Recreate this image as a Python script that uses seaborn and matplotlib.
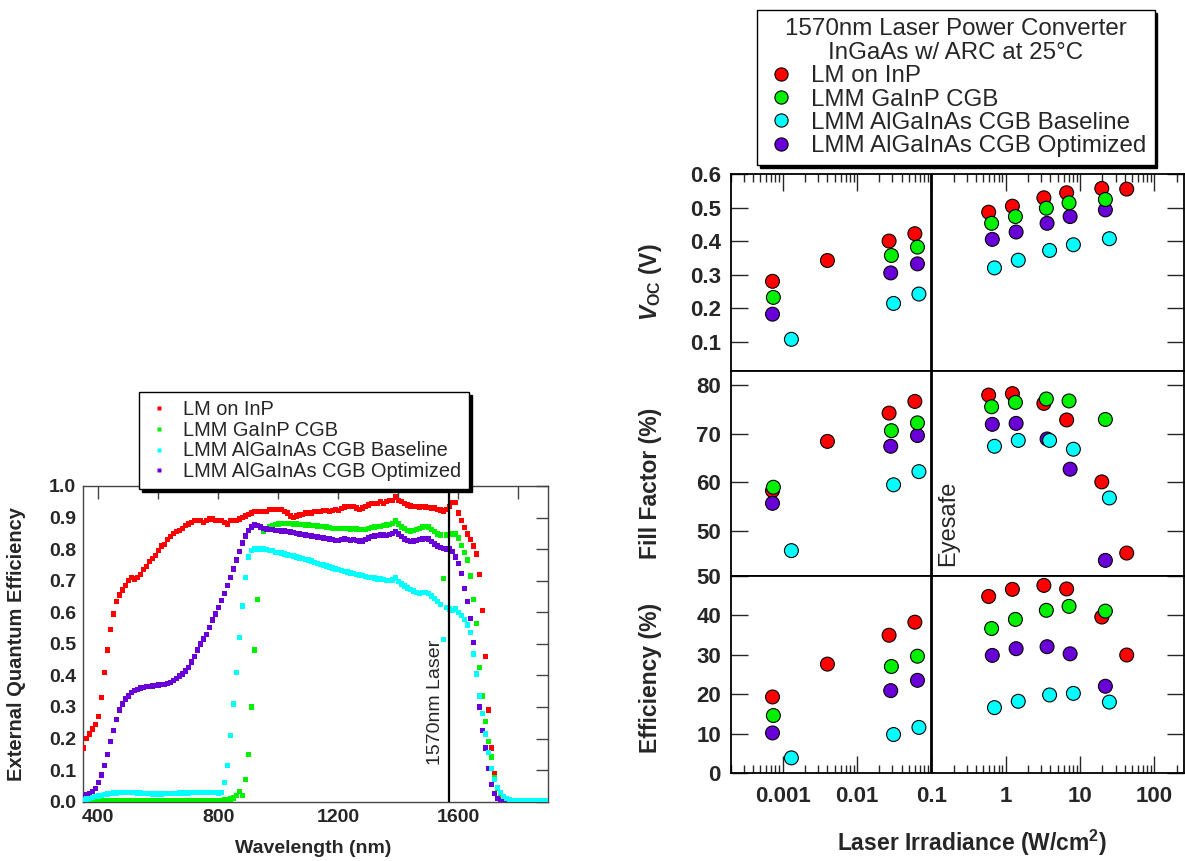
"""EQE spectra and laser power converter performance vs irradiance."""
import numpy as np
import pandas as pd
import matplotlib
matplotlib.use("Agg")
import matplotlib.pyplot as plt
from matplotlib.lines import Line2D
from matplotlib.ticker import FuncFormatter, LogLocator, NullFormatter
import seaborn as sns

SAMPLES = ["LM on InP", "LMM GaInP CGB", "LMM AlGaInAs CGB Baseline", "LMM AlGaInAs CGB Optimized"]
COLORS = ["#ff0000", "#00f000", "#00ffff", "#6a00d8"]

# --- EQE spectra, 10 nm grid from 350 to 1900 nm ---
wavelength_nm = np.arange(350, 1901, 10)

eqe_lm_inp = [
    0.17, 0.20, 0.215, 0.23, 0.245, 0.27, 0.33, 0.41, 0.48, 0.545,
    0.595, 0.635, 0.655, 0.67, 0.685, 0.70, 0.71, 0.705, 0.71, 0.72,
    0.735, 0.745, 0.76, 0.77, 0.78, 0.795, 0.81, 0.815, 0.83, 0.84,
    0.85, 0.855, 0.86, 0.865, 0.875, 0.88, 0.885, 0.89, 0.89, 0.89,
    0.885, 0.89, 0.895, 0.895, 0.89, 0.89, 0.89, 0.885, 0.88, 0.89,
    0.89, 0.89, 0.895, 0.90, 0.905, 0.91, 0.915, 0.92, 0.92, 0.92,
    0.92, 0.92, 0.925, 0.925, 0.925, 0.925, 0.925, 0.92, 0.915, 0.905,
    0.90, 0.905, 0.908, 0.91, 0.915, 0.915, 0.915, 0.92, 0.92, 0.92,
    0.922, 0.922, 0.92, 0.922, 0.925, 0.922, 0.928, 0.933, 0.935, 0.935,
    0.935, 0.93, 0.926, 0.93, 0.935, 0.94, 0.945, 0.945, 0.945, 0.95,
    0.945, 0.95, 0.955, 0.955, 0.965, 0.955, 0.95, 0.945, 0.94, 0.937,
    0.935, 0.935, 0.933, 0.935, 0.933, 0.932, 0.93, 0.93, 0.926, 0.924,
    0.921, 0.925, 0.935, 0.947, 0.948, 0.915, 0.89, 0.868, 0.848, 0.83,
    0.81, 0.785, 0.72, 0.605, 0.46, 0.29, 0.17, 0.09, 0.045, 0.02,
    0.008, 0.003, 0.001, 0, 0, 0, 0, 0, 0, 0,
    0, 0, 0, 0, 0, 0,
]
eqe_gainp = [
    0.008, 0.006, 0.005, 0.004, 0.004, 0.004, 0.003, 0.003, 0.003, 0.003,
    0.003, 0.003, 0.003, 0.003, 0.003, 0.003, 0.003, 0.003, 0.003, 0.003,
    0.003, 0.003, 0.003, 0.003, 0.003, 0.003, 0.003, 0.003, 0.003, 0.003,
    0.003, 0.003, 0.003, 0.003, 0.003, 0.003, 0.003, 0.003, 0.003, 0.003,
    0.003, 0.003, 0.003, 0.003, 0.003, 0.003, 0.004, 0.005, 0.006, 0.008,
    0.012, 0.02, 0.032, 0.02, 0.07, 0.15, 0.30, 0.48, 0.64, 0.80,
    0.855, 0.865, 0.87, 0.875, 0.878, 0.88, 0.882, 0.882, 0.882, 0.882,
    0.88, 0.88, 0.879, 0.878, 0.877, 0.876, 0.875, 0.874, 0.873, 0.872,
    0.871, 0.87, 0.868, 0.866, 0.865, 0.865, 0.866, 0.866, 0.865, 0.864,
    0.865, 0.864, 0.862, 0.862, 0.863, 0.865, 0.868, 0.87, 0.872, 0.872,
    0.874, 0.876, 0.878, 0.882, 0.889, 0.88, 0.87, 0.865, 0.86, 0.858,
    0.86, 0.862, 0.866, 0.87, 0.872, 0.87, 0.862, 0.855, 0.848, 0.845,
    0.707, 0.845, 0.847, 0.848, 0.848, 0.835, 0.812, 0.79, 0.765, 0.715,
    0.64, 0.565, 0.425, 0.335, 0.255, 0.19, 0.142, 0.075, 0.042, 0.022,
    0.01, 0.005, 0.002, 0.001, 0, 0, 0, 0, 0, 0,
    0, 0, 0, 0, 0, 0,
]
eqe_algainas_base = [
    0.005, 0.008, 0.01, 0.013, 0.016, 0.018, 0.02, 0.022, 0.024, 0.025,
    0.027, 0.028, 0.029, 0.03, 0.03, 0.03, 0.03, 0.029, 0.028, 0.027,
    0.026, 0.025, 0.025, 0.024, 0.024, 0.024, 0.024, 0.025, 0.025, 0.025,
    0.026, 0.026, 0.027, 0.027, 0.028, 0.028, 0.029, 0.029, 0.03, 0.03,
    0.03, 0.03, 0.03, 0.03, 0.03, 0.028, 0.03, 0.06, 0.115, 0.21,
    0.31, 0.41, 0.52, 0.62, 0.71, 0.775, 0.795, 0.80, 0.80, 0.80,
    0.80, 0.798, 0.795, 0.795, 0.79, 0.79, 0.788, 0.785, 0.782, 0.78,
    0.778, 0.775, 0.772, 0.77, 0.768, 0.765, 0.762, 0.758, 0.755, 0.752,
    0.75, 0.746, 0.743, 0.74, 0.737, 0.735, 0.732, 0.73, 0.728, 0.725,
    0.722, 0.72, 0.718, 0.716, 0.713, 0.71, 0.71, 0.708, 0.706, 0.705,
    0.703, 0.70, 0.70, 0.702, 0.708, 0.698, 0.69, 0.683, 0.677, 0.672,
    0.667, 0.662, 0.66, 0.662, 0.663, 0.66, 0.652, 0.643, 0.635, 0.625,
    0.513, 0.615, 0.61, 0.605, 0.61, 0.60, 0.59, 0.578, 0.56, 0.535,
    0.468, 0.405, 0.335, 0.28, 0.215, 0.155, 0.105, 0.07, 0.045, 0.03,
    0.016, 0.01, 0.005, 0.003, 0.002, 0.002, 0.002, 0.002, 0.002, 0.002,
    0.002, 0.002, 0.002, 0.002, 0.002, 0.002,
]
eqe_algainas_opt = [
    0.02, 0.022, 0.026, 0.032, 0.042, 0.06, 0.085, 0.115, 0.15, 0.19,
    0.225, 0.26, 0.29, 0.31, 0.325, 0.335, 0.345, 0.352, 0.356, 0.36,
    0.362, 0.364, 0.365, 0.366, 0.368, 0.37, 0.371, 0.372, 0.374, 0.377,
    0.383, 0.39, 0.398, 0.405, 0.414, 0.425, 0.442, 0.46, 0.48, 0.50,
    0.515, 0.53, 0.552, 0.575, 0.595, 0.615, 0.638, 0.66, 0.685, 0.71,
    0.737, 0.765, 0.793, 0.82, 0.842, 0.86, 0.87, 0.876, 0.874, 0.87,
    0.866, 0.864, 0.862, 0.862, 0.86, 0.86, 0.858, 0.857, 0.856, 0.854,
    0.852, 0.85, 0.848, 0.846, 0.845, 0.843, 0.842, 0.84, 0.838, 0.837,
    0.835, 0.834, 0.832, 0.83, 0.828, 0.828, 0.83, 0.832, 0.83, 0.828,
    0.83, 0.828, 0.826, 0.826, 0.83, 0.835, 0.84, 0.842, 0.843, 0.845,
    0.845, 0.843, 0.846, 0.85, 0.855, 0.848, 0.84, 0.832, 0.827, 0.825,
    0.826, 0.828, 0.83, 0.832, 0.834, 0.832, 0.825, 0.816, 0.81, 0.805,
    0.803, 0.80, 0.80, 0.792, 0.775, 0.755, 0.722, 0.675, 0.635, 0.58,
    0.505, 0.405, 0.30, 0.225, 0.17, 0.105, 0.055, 0.025, 0.01, 0.004,
    0, 0, 0, 0, 0, 0, 0, 0, 0, 0,
    0, 0, 0, 0, 0, 0,
]

# --- converter performance vs laser irradiance (W/cm2) ---
irr_lm_inp = [0.00073, 0.0040, 0.027, 0.060, 0.59, 1.23, 3.26, 6.6, 19.6, 42.4]
voc_lm_inp = [0.28, 0.342, 0.40, 0.422, 0.486, 0.504, 0.529, 0.544, 0.557, 0.555]
ff_lm_inp = [58.3, 68.4, 74.2, 76.6, 77.9, 78.2, 76.2, 72.8, 60.1, 45.5]
eff_lm_inp = [19.3, 27.6, 34.9, 38.2, 44.7, 46.5, 47.5, 46.6, 39.5, 29.9]

irr_gainp = [0.00075, 0.029, 0.065, 0.646, 1.35, 3.52, 7.11, 21.9]
voc_gainp = [0.232, 0.357, 0.382, 0.453, 0.473, 0.498, 0.514, 0.524]
ff_gainp = [59.0, 70.6, 72.2, 75.5, 76.4, 77.1, 76.7, 72.9]
eff_gainp = [14.6, 27.0, 29.6, 36.6, 38.9, 41.2, 42.2, 41.0]

irr_base = [0.00131, 0.031, 0.068, 0.706, 1.475, 3.89, 8.13, 24.8]
voc_base = [0.107, 0.214, 0.242, 0.32, 0.343, 0.372, 0.389, 0.407]
ff_base = [46.0, 59.5, 62.2, 67.4, 68.6, 68.6, 66.8, 56.8]
eff_base = [3.9, 9.8, 11.6, 16.6, 18.2, 19.8, 20.2, 18.0]

irr_opt = [0.00073, 0.0284, 0.065, 0.66, 1.38, 3.6, 7.35, 21.9]
voc_opt = [0.182, 0.305, 0.332, 0.405, 0.427, 0.453, 0.473, 0.493]
ff_opt = [55.7, 67.4, 69.6, 71.9, 72.1, 68.9, 62.7, 44.0]
eff_opt = [10.2, 20.9, 23.5, 29.8, 31.5, 32.0, 30.2, 22.0]


def main():
    sns.set_style("white")
    plt.rcParams["font.family"] = ["Liberation Sans", "DejaVu Sans"]
    plt.rcParams["mathtext.fontset"] = "custom"
    plt.rcParams["mathtext.it"] = "Liberation Sans:bold:italic"
    plt.rcParams["mathtext.rm"] = "Liberation Sans:bold"
    plt.rcParams["mathtext.bf"] = "Liberation Sans:bold"
    palette = dict(zip(SAMPLES, COLORS))

    W, H = 1185, 861
    fig = plt.figure(figsize=(W / 100, H / 100), dpi=100)

    def frac(left, top, right, bottom):
        return [left / W, 1 - bottom / H, (right - left) / W, (bottom - top) / H]

    # ---------------- EQE panel ----------------
    spectra = {
        "LM on InP": eqe_lm_inp,
        "LMM GaInP CGB": eqe_gainp,
        "LMM AlGaInAs CGB Optimized": eqe_algainas_opt,
        "LMM AlGaInAs CGB Baseline": eqe_algainas_base,
    }
    eqe = pd.concat([
        pd.DataFrame({"wavelength": wavelength_nm, "eqe": vals, "sample": name})
        for name, vals in spectra.items()
    ])

    ax = fig.add_axes(frac(83.3, 486, 548.3, 801.7))
    sns.scatterplot(data=eqe, x="wavelength", y="eqe", hue="sample", palette=palette,
                    marker="s", s=15, linewidth=0, legend=False, ax=ax, zorder=3)
    ax.axvline(1570, color="black", lw=1.6, zorder=4)
    ax.text(1553, 0.116, "1570nm Laser", rotation=90, ha="right", va="bottom", fontsize=14)
    ax.set_xlim(350, 1900)
    ax.set_ylim(0, 1)
    ax.set_xticks([400, 800, 1200, 1600])
    ax.set_xticks([600, 1000, 1400, 1800], minor=True)
    ax.set_yticks(np.arange(0, 1.01, 0.1))
    ax.yaxis.set_major_formatter(FuncFormatter(lambda v, _: f"{v:.1f}"))
    ax.tick_params(which="both", direction="in", top=True, right=True, length=9,
                   width=1, color="#444444", labelsize=14, pad=5)
    for lab in ax.get_xticklabels() + ax.get_yticklabels():
        lab.set_fontweight("bold")
    for sp in ax.spines.values():
        sp.set_color("#444444")
        sp.set_linewidth(1)
    ax.set_xlabel("Wavelength (nm)", fontsize=14, fontweight="bold", va="center")
    ax.xaxis.set_label_coords(0.495, -0.147)
    ax.set_ylabel("External Quantum Efficiency", fontsize=14.5, fontweight="bold", va="center")
    ax.yaxis.set_label_coords(-0.143, 0.5)

    sq = [Line2D([], [], ls="none", marker="s", ms=3.5, mfc=c, mec="none") for c in COLORS]
    fig.legend(sq, SAMPLES, loc="upper left", bbox_to_anchor=(139 / W, 1 - 392.3 / H),
               fontsize=14.4, frameon=True, fancybox=False, edgecolor="black",
               shadow={"color": "black", "alpha": 1}, borderaxespad=0, borderpad=0.4,
               handlelength=1.2, handletextpad=0.6, labelspacing=0.08)

    # ---------------- performance panels ----------------
    perf = pd.concat([
        pd.DataFrame({"irr": irr_lm_inp, "voc": voc_lm_inp, "ff": ff_lm_inp, "eff": eff_lm_inp, "sample": SAMPLES[0]}),
        pd.DataFrame({"irr": irr_opt, "voc": voc_opt, "ff": ff_opt, "eff": eff_opt, "sample": SAMPLES[3]}),
        pd.DataFrame({"irr": irr_gainp, "voc": voc_gainp, "ff": ff_gainp, "eff": eff_gainp, "sample": SAMPLES[1]}),
        pd.DataFrame({"irr": irr_base, "voc": voc_base, "ff": ff_base, "eff": eff_base, "sample": SAMPLES[2]}),
    ])

    ax_voc = fig.add_axes(frac(730.7, 174, 1184, 370.7))
    ax_ff = fig.add_axes(frac(730.7, 370.7, 1184, 575.5))
    ax_eff = fig.add_axes(frac(730.7, 575.5, 1184, 773.3))

    specs = [
        (ax_voc, "voc", (0.0134, 0.6), [0.1, 0.2, 0.3, 0.4, 0.5, 0.6], r"$V_{\mathrm{OC}}$ (V)", 0.45),
        (ax_ff, "ff", (40.9, 82.9), [50, 60, 70, 80], "Fill Factor (%)", 0.45),
        (ax_eff, "eff", (0, 50), [0, 10, 20, 30, 40, 50], "Efficiency (%)", 0.48),
    ]
    for a, col, ylim, yt, ylab, ly in specs:
        a.set_xscale("log")
        sns.scatterplot(data=perf, x="irr", y=col, hue="sample", palette=palette, s=100,
                        edgecolor="black", linewidth=0.8, legend=False, ax=a, zorder=3)
        a.axvline(0.1, color="black", lw=2, zorder=2)
        a.set_xlim(2e-4, 250)
        a.set_ylim(*ylim)
        a.set_yticks(yt)
        if col == "voc":
            a.yaxis.set_major_formatter(FuncFormatter(lambda v, _: f"{v:.1f}"))
        a.tick_params(axis="y", direction="in", left=True, right=True, length=12,
                      width=1, labelsize=16, pad=7)
        for lab in a.get_yticklabels():
            lab.set_fontweight("bold")
        for sp in a.spines.values():
            sp.set_color("black")
            sp.set_linewidth(1.3)
        a.set_ylabel(ylab, fontsize=16.5, fontweight="bold", va="center")
        a.yaxis.set_label_coords(-0.178, ly)
        a.set_xlabel("")

    minor = LogLocator(base=10, subs=np.arange(2, 10), numticks=100)
    for a in (ax_voc, ax_ff, ax_eff):
        a.xaxis.set_minor_locator(minor)
        a.xaxis.set_minor_formatter(NullFormatter())
        a.set_xticks([1e-3, 1e-2, 1e-1, 1, 10, 100])
    ax_voc.tick_params(axis="x", which="both", direction="in", bottom=False, top=True,
                       labelbottom=False)
    ax_voc.tick_params(axis="x", which="major", length=12, width=1)
    ax_voc.tick_params(axis="x", which="minor", length=6, width=1)
    ax_ff.tick_params(axis="x", which="both", bottom=False, top=False, labelbottom=False)
    ax_eff.tick_params(axis="x", which="both", direction="in", bottom=True, top=False)
    ax_eff.tick_params(axis="x", which="major", length=12, width=1, labelsize=16, pad=9)
    ax_eff.tick_params(axis="x", which="minor", length=6, width=1)
    ax_eff.set_xticklabels(["0.001", "0.01", "0.1", "1", "10", "100"])
    for lab in ax_eff.get_xticklabels():
        lab.set_fontweight("bold")
    ax_eff.set_xlabel(r"Laser Irradiance (W/cm$^{2}$)", fontsize=16.5, fontweight="bold", va="center")
    ax_eff.xaxis.set_label_coords(0.532, -0.352)

    ax_ff.text(0.118, 42.8, "Eyesafe", rotation=90, ha="left", va="bottom", fontsize=17)

    dots = [Line2D([], [], ls="none", marker="o", ms=9.5, mfc=c, mec="black", mew=0.8) for c in COLORS]
    leg = fig.legend(dots, SAMPLES, loc="upper left", bbox_to_anchor=(757.3 / W, 1 - 10 / H),
                     title="1570nm Laser Power Converter\nInGaAs w/ ARC at 25°C",
                     fontsize=17.4, title_fontsize=17.4, frameon=True, fancybox=False,
                     edgecolor="black", shadow={"color": "black", "alpha": 1},
                     borderaxespad=0, borderpad=0.35, handlelength=1.3, handletextpad=0.57,
                     labelspacing=0.05)
    leg.get_title().set_multialignment("center")
    leg.get_title().set_linespacing(1.1)

    fig.savefig("out.png", dpi=100)


if __name__ == "__main__":
    main()
